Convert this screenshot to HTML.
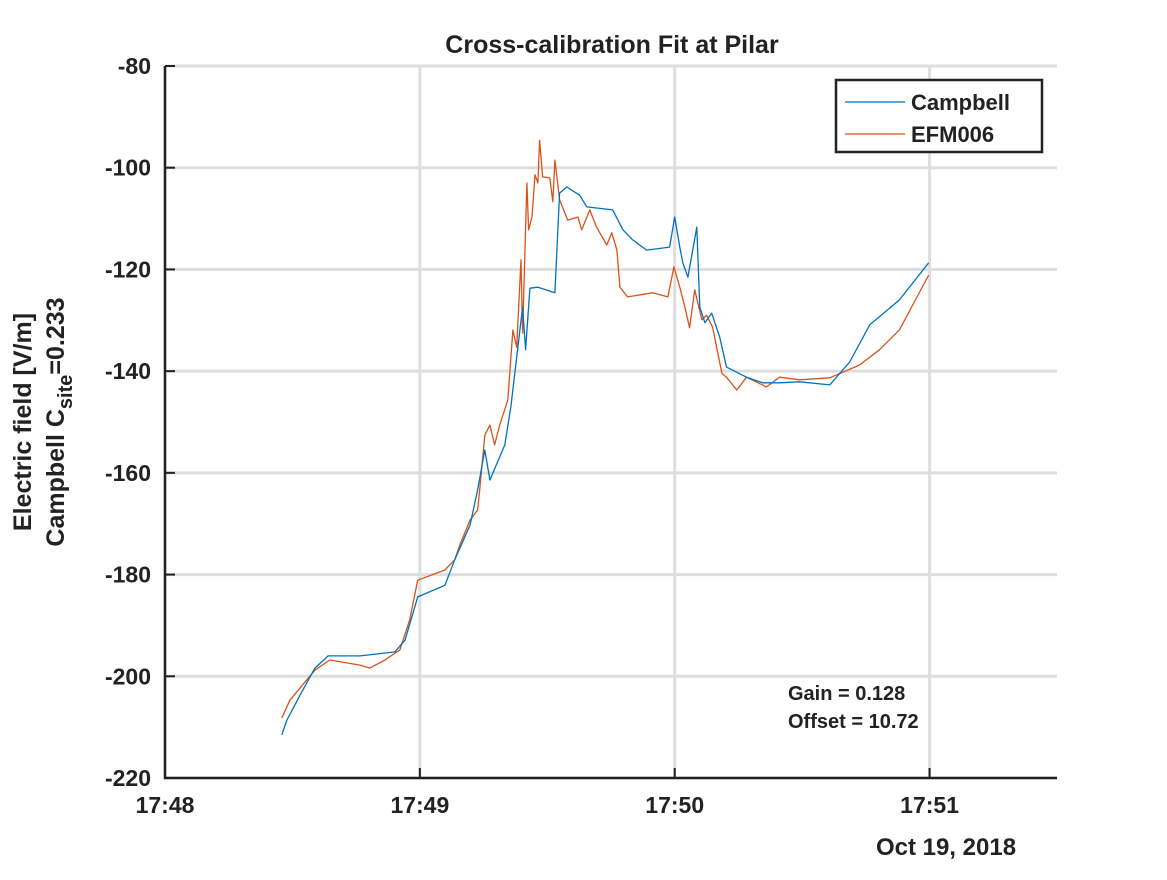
<!DOCTYPE html>
<html><head><meta charset="utf-8"><style>
body{margin:0;background:#fff;font-family:"Liberation Sans",Arial,sans-serif;}
svg text{font-family:"Liberation Sans",Arial,sans-serif;font-weight:bold;fill:#222;}
</style></head><body>
<svg id="chart" width="1167" height="875" viewBox="0 0 1167 875" xmlns="http://www.w3.org/2000/svg">
<rect width="1167" height="875" fill="#fff"/>
<g id="grid"></g><g id="series"></g><g id="axes"></g>
<text x="612" y="53" text-anchor="middle" font-size="25">Cross-calibration Fit at Pilar</text>
<g transform="translate(38,422) rotate(-90)">
<text x="0" y="-7" text-anchor="middle" font-size="25">Electric field [V/m]</text>
<text x="0" y="26" text-anchor="middle" font-size="25">Campbell C<tspan font-size="20" dy="8">site</tspan><tspan dy="-8">=0.233</tspan></text>
</g>
<text x="946" y="855" text-anchor="middle" font-size="24">Oct 19, 2018</text>
<g>
<rect x="836" y="80" width="206" height="72" fill="#fff" stroke="#222" stroke-width="2.5"/>
<line x1="845" y1="102" x2="905" y2="102" stroke="#0072BD" stroke-width="1.2"/>
<text x="911" y="110" font-size="22">Campbell</text>
<line x1="845" y1="134" x2="905" y2="134" stroke="#D95319" stroke-width="1.2"/>
<text x="911" y="142" font-size="22">EFM006</text>
</g>
<text x="788" y="700" font-size="20">Gain = 0.128</text>
<text x="788" y="728" font-size="20">Offset = 10.72</text>
</svg>
<script>
const xTicks=[0,60,120,180];
const xTickLabels=["17:48","17:49","17:50","17:51"];
const yTicks=[-80,-100,-120,-140,-160,-180,-200,-220];
const campT=[27.5,28.7,31.8,35.3,38.4,45.9,54.1,56.5,59.5,65.9,68.2,71.8,73.6,75.3,76.5,80.0,81.4,84.2,84.9,85.9,87.8,91.8,92.9,94.6,97.6,99.3,105.4,107.8,110.1,113.4,118.8,120.0,121.2,121.9,123.1,125.2,125.9,127.1,128.7,130.6,132.2,136.9,140.7,144.7,149.4,156.5,161.2,165.9,172.9,179.8];
const campV=[-211.5,-208.6,-203.7,-198.4,-196.0,-196.0,-195.2,-192.9,-184.4,-182.1,-177.1,-170.3,-163.4,-155.5,-161.4,-154.5,-147.1,-127.4,-135.8,-123.7,-123.5,-124.6,-105.0,-103.8,-105.4,-107.7,-108.3,-112.2,-114.2,-116.2,-115.6,-109.7,-115.6,-118.7,-121.5,-111.7,-127.4,-130.5,-128.6,-133.3,-139.2,-141.2,-142.3,-142.3,-142.1,-142.7,-138.2,-130.9,-126.0,-118.7];
const efmT=[27.5,29.4,35.3,38.8,45.9,48.2,51.8,55.3,57.6,59.5,65.9,68.2,69.4,71.8,73.6,74.1,75.3,76.5,77.6,78.8,80.7,81.9,82.8,83.8,84.2,85.2,85.6,86.4,87.1,87.8,88.2,88.9,90.6,91.3,91.8,92.9,94.8,97.2,98.1,100.0,101.6,104.0,105.2,106.4,107.1,108.9,114.8,118.4,119.8,121.2,122.4,123.5,124.7,126.4,127.5,128.9,131.1,132.2,134.6,136.9,141.6,144.7,149.4,156.5,163.5,168.2,172.9,179.8];
const efmV=[-208.2,-204.7,-198.8,-196.8,-197.8,-198.4,-196.8,-194.8,-188.9,-181.1,-179.1,-177.1,-174.2,-169.3,-167.3,-163.4,-152.6,-150.6,-154.5,-150.6,-145.7,-131.9,-135.3,-118.1,-132.5,-103.0,-112.2,-109.7,-101.4,-103.0,-94.6,-101.8,-102.0,-106.7,-98.5,-106.3,-110.3,-109.7,-112.2,-108.3,-111.7,-115.2,-112.8,-116.2,-123.5,-125.4,-124.6,-125.4,-119.5,-123.5,-127.4,-131.5,-124.0,-129.9,-129.0,-131.3,-140.4,-141.2,-143.7,-141.2,-143.1,-141.2,-141.7,-141.3,-138.8,-135.8,-131.9,-121.1];
const L=165,R=1057,T=66,B=778;
const xs=t=>L+t/210*(R-L);
const ys=v=>T+(-80-v)/140*(B-T);
const NS="http://www.w3.org/2000/svg";
function mk(tag,attrs,parent){const e=document.createElementNS(NS,tag);for(const k in attrs)e.setAttribute(k,attrs[k]);parent.appendChild(e);return e;}
const grid=document.getElementById('grid'),axes=document.getElementById('axes'),series=document.getElementById('series');
yTicks.forEach(v=>{
 const g=mk('line',{x1:L,x2:R,y1:ys(v),y2:ys(v),stroke:'#dedede','stroke-width':3},grid);
 
 
 const tk=mk('line',{x1:L,x2:L+10,y1:ys(v),y2:ys(v),stroke:'#222','stroke-width':2},axes);
 
 
 const tx=mk('text',{x:L-14,y:ys(v)+8,'text-anchor':'end','font-size':23},axes);
 tx.textContent=v;
 
 
});
xTicks.forEach((t,i)=>{
 const g=mk('line',{x1:xs(t),x2:xs(t),y1:T,y2:B,stroke:'#dedede','stroke-width':3},grid);
 
 
 const tk=mk('line',{x1:xs(t),x2:xs(t),y1:B,y2:B-10,stroke:'#222','stroke-width':2},axes);
 
 
 const tx=mk('text',{x:xs(t),y:B+35,'text-anchor':'middle','font-size':23},axes);
 tx.textContent=xTickLabels[i];
 
 
});
const ax=mk('path',{d:`M${L},${T} L${L},${B} L${R},${B}`,fill:'none',stroke:'#222','stroke-width':2.5},axes);


function line(ts,vs,color,name){
 const d=ts.map((t,i)=>(i?'L':'M')+xs(t).toFixed(1)+','+ys(vs[i]).toFixed(1)).join(' ');
 const p=mk('path',{d:d,fill:'none',stroke:color,'stroke-width':1.3,'stroke-linejoin':'round'},series);
 
 
}
line(efmT,efmV,'#D95319','efm006-series');
line(campT,campV,'#0072BD','campbell-series');
</script>
</body></html>
